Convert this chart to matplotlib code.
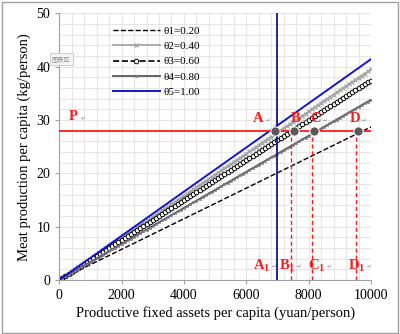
import numpy as np
import matplotlib.pyplot as plt
from matplotlib.patches import Rectangle

plt.rcParams['font.family'] = ['Liberation Serif', 'DejaVu Serif']
plt.rcParams['mathtext.fontset'] = 'custom'
plt.rcParams['mathtext.rm'] = 'Liberation Serif'
plt.rcParams['mathtext.bf'] = 'Liberation Serif:bold'

#data
assets = np.arange(0, 10001, 100)               # productive fixed assets (yuan/person)
theta_labels = ["θ1=0.20", "θ2=0.40", "θ3=0.60", "θ4=0.80", "θ5=1.00"]
meat_at_10000 = [28.7, 39.5, 37.4, 33.8, 41.4]  # meat production at 10000 yuan (kg/person)

p_level = 28.0
point_names = ["A", "B", "C", "D"]
point_x = [6920, 7540, 8160, 9590]
drop_x = [7450, 8120, 9510]                     # dashed drops for B1, C1, D1
a1_line_x = 7000
label_x = [6380, 7590, 8230, 9480]
sub_x = [6490, 7300, 8250, 9530]

fig = plt.figure(figsize=(4.0, 3.34), dpi=100)
ax = fig.add_axes([0.148, 0.1617, 0.7795, 0.7985])

#styles for the five theta lines
styles = [
    dict(color='black', ls='--', lw=1.0),
    dict(color='#a6a6a6', ls='-', lw=1.3, marker='x', ms=2.3, mew=0.9),
    dict(color='black', ls='--', lw=1.2, marker='o', ms=3.3, mfc='white', mew=0.7),
    dict(color='#595959', ls='-', lw=1.3, marker='s', ms=2.0, mfc='#8e7a9a', mec='#707070', mew=0.4),
    dict(color='#1414d2', ls='-', lw=1.4),
]
for lab, end, st in zip(theta_labels, meat_at_10000, styles):
    ax.plot(assets, end * assets / 10000.0, label=lab, **st)

#P level and vertical markers
ax.plot([0, 10000], [p_level, p_level], color='#ff1a1a', lw=1.3, zorder=3)
ax.plot([a1_line_x, a1_line_x], [0, 50], color='#10109a', lw=1.3, zorder=3)
for dx in drop_x:
    ax.plot([dx, dx], [0, 26.8], color='#ff1a1a', lw=1.0, ls=(0, (3, 2)), zorder=3)
ax.scatter(point_x, [p_level] * len(point_x), s=45, color='#595959',
           edgecolor='white', linewidth=0.8, zorder=5)

red = dict(color='#ff1a1a', fontweight='bold', fontsize=10.5, ha='center', va='center', zorder=6)
mark = dict(color='#909090', fontsize=4, ha='left', va='center', family='DejaVu Sans', zorder=6)
ax.text(450, 30.6, "P", **red)
ax.text(700, 30.3, "↵", **mark)
for nm, lx in zip(point_names, label_x):
    ax.text(lx, 30.2, nm, **red)
    ax.text(lx + 230, 29.9, "↵", **mark)
for nm, sx in zip(point_names, sub_x):
    ax.text(sx, 2.6, r"$\mathbf{%s_1}$" % nm, **red)
    ax.text(sx + 330, 2.4, "↵", **mark)

ax.set_xlim(0, 10000)
ax.set_ylim(0, 50)
ax.set_xticks(np.arange(0, 10001, 2000))
ax.set_yticks(np.arange(0, 51, 10))
ax.set_xticks(np.arange(0, 10001, 400), minor=True)
ax.set_yticks(np.arange(0, 51, 2), minor=True)
ax.grid(True, which='both', color='#e6e6e6', lw=0.8)
ax.set_axisbelow(True)
ax.tick_params(which='major', labelsize=10, length=3, color='#a0a0a0', width=0.8)
ax.tick_params(which='minor', length=0)
for s in ['top', 'right']:
    ax.spines[s].set_visible(False)
for s in ['left', 'bottom']:
    ax.spines[s].set_color('#a0a0a0')
    ax.spines[s].set_linewidth(0.8)

ax.set_xlabel("Productive fixed assets per capita (yuan/person)", fontsize=10.5, labelpad=3)
ax.set_ylabel("Meat production per capita (kg/person)", fontsize=10.5, labelpad=4)

ax.legend(loc='upper left', bbox_to_anchor=(0.14, 0.99), frameon=False, fontsize=8,
          handlelength=4.2, handletextpad=0.4, labelspacing=0.5)

#excel tooltip left on the picture
fig.text(52 / 400, 1 - 61 / 334, "图表区", fontsize=4.5, color='#909090',
         family='Noto Sans CJK SC', ha='left', va='baseline',
         bbox=dict(boxstyle='square,pad=0.3', fc='#f4f4f4', ec='#c8c8c8', lw=0.6))

#outer chart border
fig.patches.append(Rectangle((0.004, 0.004), 0.992, 0.99, transform=fig.transFigure,
                             fill=False, ec='#a0a0a0', lw=1.0))

fig.savefig("out.png", dpi=100)
